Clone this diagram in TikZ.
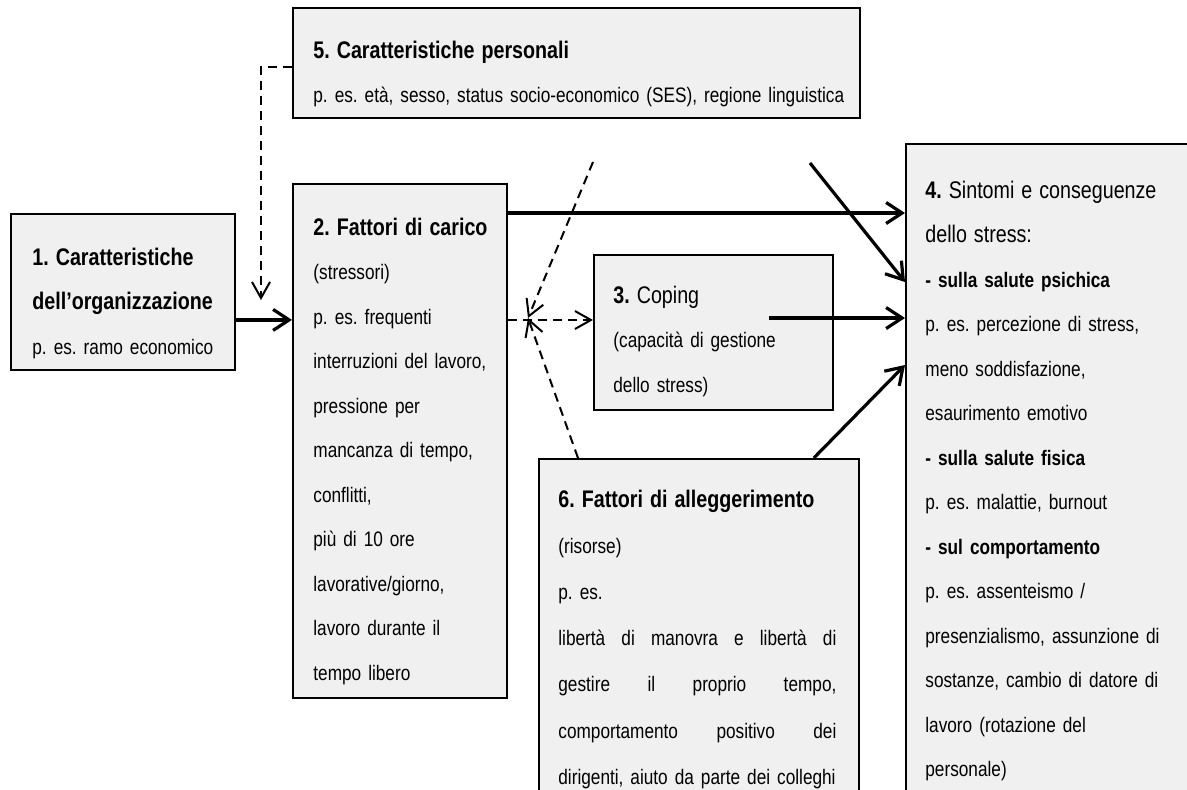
\documentclass[tikz,border=0pt]{standalone}
\usepackage{fontspec}
\setmainfont{Liberation Sans}[FakeStretch=0.82]
\usepackage{xcolor}
\usetikzlibrary{arrows.meta,calc,positioning}
\newcommand{\pxunit}{0.5pt}
\newcommand{\bodyfont}{\fontsize{10.5}{22.25}\selectfont}
\newcommand{\ttlfont}{\fontsize{12}{22.25}\selectfont}
\newcommand{\jline}[1]{\leavevmode\hbox to 139pt{#1}}
\definecolor{boxgray}{RGB}{240,240,240}
\tikzset{
    boxsty/.style={draw,fill=boxgray,line width=0.9pt,rectangle,anchor=north west,inner sep=0pt},
    txtsty/.style={anchor=base west,inner sep=0pt,align=left,font={\frenchspacing\bodyfont}},
    solidsty/.style={line width=1.6pt,-{Straight Barb[length=8pt,width=10.5pt]}},
    dashsty/.style={line width=1pt,dash pattern=on 4.5pt off 3pt,-{Straight Barb[length=8pt,width=9pt]}},
}

\begin{document}
\begin{tikzpicture}[x=\pxunit,y=-\pxunit]
  \useasboundingbox (0,0) rectangle (1187,789);
  \clip (0,0) rectangle (1187,789);

  % boxes
  \node[boxsty,minimum width=567*\pxunit,minimum height=110*\pxunit] (b5) at (292,7) {};
  \node[boxsty,minimum width=224*\pxunit,minimum height=156*\pxunit] (b1) at (10,213) {};
  \node[boxsty,minimum width=214*\pxunit,minimum height=514*\pxunit] (b2) at (292,183) {};
  \node[boxsty,minimum width=239*\pxunit,minimum height=155*\pxunit] (b3) at (593,254) {};
  \node[boxsty,minimum width=320*\pxunit,minimum height=360*\pxunit] (b6) at (538,458) {};
  \node[boxsty,minimum width=300*\pxunit,minimum height=680*\pxunit] (b4) at (905,143) {};

  % texts
  \node[txtsty,text width=275pt] (t5) at ($(b5.north west)+(21,51)$)
    {{\ttlfont\bfseries 5. Caratteristiche personali}\\
     p. es. età, sesso, status socio-economico (SES), regione linguistica};
  \node[txtsty,text width=100pt] (t1) at ($(b1.north west)+(22,52)$)
    {{\ttlfont\bfseries 1. Caratteristiche}\\
     {\ttlfont\bfseries dell’organizzazione}\\
     p. es. ramo economico};
  \node[txtsty,text width=95pt] (t2) at ($(b2.north west)+(21,52)$)
    {{\ttlfont\bfseries 2. Fattori di carico}\\
     (stressori)\\
     p. es. frequenti\\
     interruzioni del lavoro,\\
     pressione per\\
     mancanza di tempo,\\
     conflitti,\\
     più di 10 ore\\
     lavorative/giorno,\\
     lavoro durante il\\
     tempo libero};
  \node[txtsty,text width=105pt] (t3) at ($(b3.north west)+(20,49)$)
    {{\ttlfont\textbf{3.} Coping}\\
     (capacità di gestione\\
     dello stress)};
  \node[txtsty,text width=140pt,font={\frenchspacing\fontsize{10.5}{23.1}\selectfont}] (t6) at ($(b6.north west)+(20,49)$)
    {{\ttlfont\bfseries 6. Fattori di alleggerimento}\\
     (risorse)\\
     p. es.\\
     \jline{libertà\hfill di\hfill manovra\hfill e\hfill libertà\hfill di}\\
     \jline{gestire\hfill il\hfill proprio\hfill tempo,}\\
     \jline{comportamento\hfill positivo\hfill dei}\\
     dirigenti, aiuto da parte dei colleghi};
  \node[txtsty,text width=130pt] (t4) at ($(b4.north west)+(20,55)$)
    {{\ttlfont\textbf{4.} Sintomi e conseguenze}\\
     {\ttlfont dello stress:}\\
     \textbf{- sulla salute psichica}\\
     p. es. percezione di stress,\\
     meno soddisfazione,\\
     esaurimento emotivo\\
     \textbf{- sulla salute fisica}\\
     p. es. malattie, burnout\\
     \textbf{- sul comportamento}\\
     p. es.\ assenteismo /\\
     presenzialismo, assunzione di\\
     sostanze, cambio di datore di\\
     lavoro (rotazione del\\
     personale)};

  % connectors
  \coordinate (a12) at ([yshift=-14pt]b1.east);
  \draw[solidsty] (a12) -- (a12 -| b2.west);
  \coordinate (m12) at (261,300);
  \draw[dashsty] ([yshift=-2pt]b5.west) -| (m12);

  \coordinate (a24) at ([yshift=-15pt]b2.north east);
  \draw[solidsty] (a24) -- (a24 -| b4.west);
  \coordinate (a23) at ([yshift=-68.5pt]b2.north east);
  \draw[dashsty] (a23) -- (a23 -| b3.west);

  \coordinate (m23) at (528,318);
  \coordinate (s5) at (593,162);
  \draw[dashsty] (s5) -- (m23);
  \coordinate (s6) at ([xshift=20pt]b6.north west);
  \draw[dashsty] (s6) -- (m23);

  \coordinate (s54) at (810,163);
  \draw[solidsty] (s54) -- ([yshift=-69.5pt]b4.north west);
  \coordinate (s34) at (769,318);
  \draw[solidsty] (s34) -- (s34 -| b4.west);
  \draw[solidsty] ([xshift=-23pt]b6.north east) -- ([yshift=-111pt]b4.north west);
\end{tikzpicture}
\end{document}
